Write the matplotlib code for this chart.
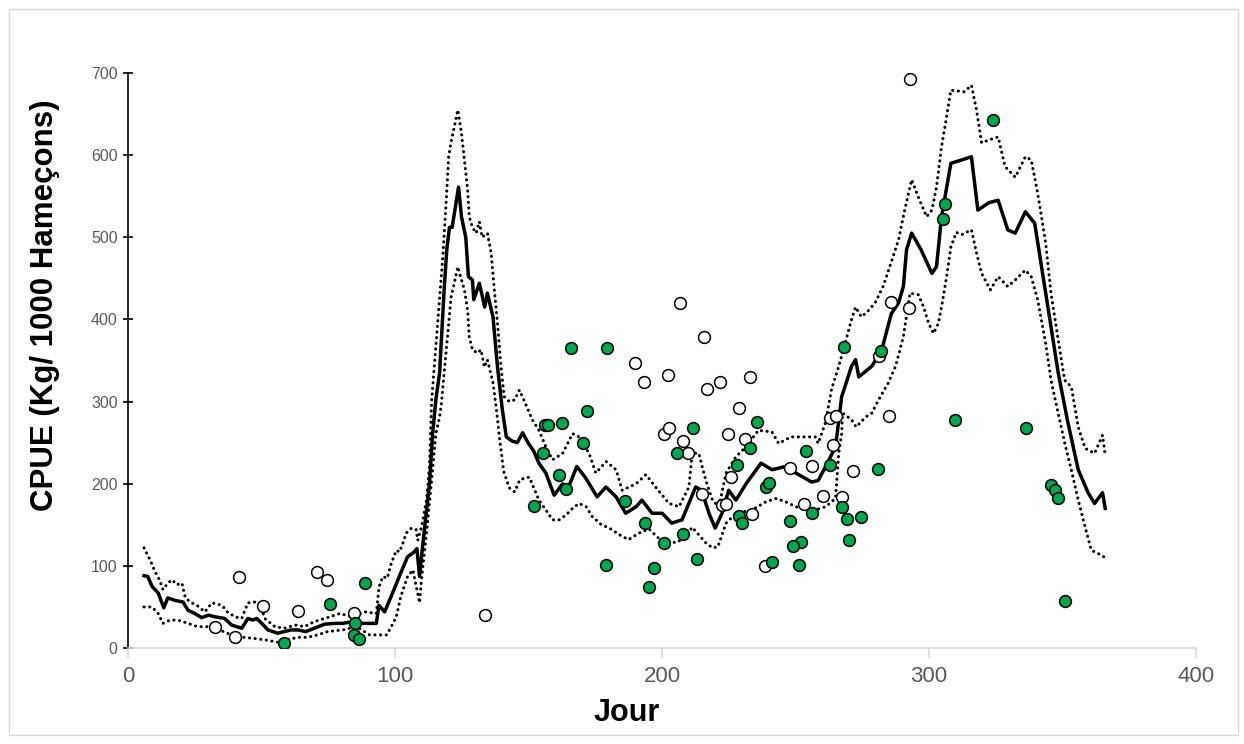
import matplotlib

matplotlib.use("Agg")
import matplotlib.pyplot as plt
from matplotlib.patches import Rectangle

plt.rcParams["font.family"] = ["Liberation Sans", "DejaVu Sans"]

# moving average of CPUE (solid line)
mean_day = [6.0, 7.4, 9.0, 11.3, 13.4, 14.9, 17.6, 20.6, 22.5, 25.0, 27.6, 30.1,
            32.6, 36.2, 38.8, 42.6, 44.9, 46.7, 48.2, 50.1, 52.4, 56.1, 58.5,
            61.1, 63.6, 66.6, 69.7, 73.7, 77.4, 80.4, 83.9, 87.9, 93.0, 94.0,
            96.1, 99.1, 102.1, 104.7, 107.2, 108.2, 109.2, 110.3, 112.9, 114.1,
            115.3, 116.7, 118.4, 119.4, 120.4, 121.4, 123.8, 124.9, 126.5,
            127.5, 129.0, 129.5, 131.6, 133.6, 134.6, 136.7, 138.4, 140.2,
            141.7, 143.8, 145.8, 147.8, 149.8, 151.9, 153.9, 156.5, 159.6,
            162.8, 164.5, 168.1, 171.2, 175.7, 179.0, 182.8, 186.4, 190.3,
            192.5, 196.3, 200.1, 203.6, 207.5, 212.6, 214.8, 217.6, 219.9,
            222.5, 225.0, 227.7, 231.5, 237.1, 241.2, 246.3, 250.1, 256.1,
            258.5, 261.3, 265.0, 267.3, 271.0, 272.5, 273.7, 278.6, 282.3,
            285.9, 288.6, 290.4, 291.6, 293.5, 297.0, 301.1, 302.8, 304.7,
            308.2, 312.2, 315.9, 318.3, 322.4, 325.9, 329.5, 332.3, 336.1,
            339.6, 343.7, 348.4, 351.8, 355.9, 359.6, 362.0, 365.0, 366.0]
mean_cpue = [88, 87, 75, 67, 49, 61, 58, 56, 46, 42, 37, 40, 38, 36, 28, 24, 36,
             34, 36, 30, 22, 18, 20, 22, 22, 20, 24, 29, 30, 30, 32, 30, 30, 52,
             44, 67, 91, 111, 117, 121, 87, 123, 200, 261, 302, 335, 436, 485,
             512, 512, 561, 525, 500, 452, 448, 424, 444, 415, 432, 403, 342,
             290, 257, 252, 250, 262, 250, 240, 225, 213, 186, 200, 192, 221,
             208, 184, 196, 184, 164, 172, 180, 164, 164, 152, 156, 196, 192,
             164, 146, 164, 192, 180, 200, 225, 217, 221, 213, 202, 204, 221,
             245, 306, 343, 351, 330, 343, 363, 407, 420, 440, 485, 505, 485,
             456, 464, 525, 590, 594, 598, 533, 542, 545, 509, 505, 531, 517,
             432, 335, 278, 217, 189, 176, 189, 170]

# upper bound (dotted)
up_day = [6.0, 8.3, 10.1, 11.8, 13.1, 14.9, 16.5, 18.3, 20.2, 21.4, 23.2, 25.8,
          28.8, 31.4, 35.2, 37.2, 40.0, 42.6, 44.9, 47.3, 49.4, 51.2, 55.0, 58.5,
          62.6, 66.1, 69.7, 73.7, 77.4, 79.3, 83.9, 88.9, 93.0, 94.0, 95.4, 97.1,
          98.6, 100.5, 101.7, 103.0, 104.2, 106.2, 107.9, 108.5, 109.9, 111.8,
          112.9, 113.7, 117.9, 119.2, 120.1, 121.0, 122.2, 123.5, 124.9, 126.0,
          127.2, 127.8, 129.0, 130.4, 131.6, 132.6, 134.6, 136.0, 137.2, 138.4,
          139.7, 140.9, 142.8, 144.8, 146.6, 148.8, 151.4, 153.9, 156.5, 159.0,
          162.8, 166.5, 168.9, 172.7, 175.2, 179.1, 182.8, 185.1, 190.3, 194.0,
          197.6, 202.6, 206.4, 210.1, 211.3, 213.8, 216.4, 218.9, 221.3, 224.0,
          227.7, 231.5, 236.1, 241.2, 243.7, 248.3, 253.9, 257.4, 258.5, 261.3,
          263.5, 266.2, 268.6, 271.0, 272.5, 274.7, 277.4, 279.8, 282.8, 285.9,
          288.6, 290.9, 293.5, 296.0, 299.1, 301.1, 302.8, 304.7, 306.2, 308.2,
          313.3, 315.9, 317.8, 319.7, 323.0, 325.9, 328.5, 332.3, 336.1, 338.3,
          340.7, 343.7, 345.7, 348.4, 350.8, 353.3, 355.9, 358.5, 362.0, 365.0,
          366.0]
up_cpue = [122, 107, 93, 83, 71, 79, 83, 77, 79, 62, 56, 52, 44, 55, 52, 44, 38,
           36, 55, 56, 55, 36, 26, 24, 28, 26, 32, 36, 40, 42, 38, 44, 42, 74, 87,
           85, 103, 119, 117, 128, 140, 146, 144, 131, 147, 180, 221, 300, 476,
           545, 598, 616, 634, 655, 627, 594, 558, 525, 512, 505, 519, 500, 505,
           481, 436, 395, 342, 306, 300, 302, 314, 298, 278, 265, 245, 229, 237,
           261, 257, 237, 213, 227, 217, 192, 200, 211, 196, 176, 172, 196, 237,
           237, 204, 180, 172, 213, 233, 245, 265, 263, 249, 257, 257, 257, 249,
           275, 315, 343, 371, 400, 415, 403, 411, 420, 440, 470, 497, 533, 570,
           549, 525, 533, 561, 610, 639, 679, 677, 685, 655, 615, 619, 622, 586,
           573, 598, 594, 554, 493, 432, 375, 326, 318, 269, 243, 237, 259, 235]

# lower bound (dotted)
lo_day = [6.0, 9.0, 11.3, 13.1, 15.7, 18.7, 22.5, 26.0, 29.9, 32.5, 36.2, 40.0,
          43.8, 46.3, 51.2, 56.1, 59.5, 63.6, 67.3, 71.1, 74.7, 80.4, 85.6, 90.5,
          96.9, 98.6, 100.5, 102.1, 104.7, 106.7, 108.2, 109.2, 109.9, 111.8,
          113.6, 115.3, 116.7, 117.4, 118.4, 119.9, 121.0, 122.2, 123.5, 124.9,
          126.0, 127.2, 127.8, 129.0, 130.9, 132.2, 133.5, 134.6, 136.7, 138.0,
          139.1, 140.7, 142.8, 144.8, 146.8, 150.3, 153.9, 156.5, 159.0, 161.5,
          164.1, 166.5, 168.9, 171.6, 173.9, 177.3, 180.3, 184.0, 187.4, 191.5,
          195.1, 198.6, 205.3, 208.7, 211.3, 216.4, 218.9, 220.9, 224.0, 227.7,
          233.7, 238.9, 242.6, 246.3, 250.1, 256.1, 261.3, 265.0, 266.2, 267.3,
          267.6, 271.0, 272.7, 276.2, 278.6, 281.1, 284.8, 287.5, 290.4, 292.9,
          296.0, 298.0, 299.9, 301.7, 303.5, 304.7, 306.6, 308.2, 310.2, 312.2,
          315.9, 317.8, 319.7, 323.0, 325.9, 329.5, 332.3, 336.1, 338.3, 340.7,
          343.7, 345.7, 348.4, 350.8, 353.3, 355.9, 358.5, 360.8, 363.4, 366.0]
lo_cpue = [50, 50, 42, 30, 34, 34, 30, 26, 26, 22, 20, 13, 13, 12, 10, 7, 10, 13,
           13, 16, 20, 22, 26, 16, 16, 26, 38, 62, 87, 95, 71, 55, 83, 140, 200,
           261, 281, 298, 335, 387, 427, 444, 464, 448, 436, 411, 379, 363, 359,
           363, 342, 351, 323, 290, 257, 215, 195, 190, 205, 208, 180, 168, 156,
           156, 162, 170, 176, 172, 160, 150, 146, 138, 132, 140, 145, 134, 128,
           135, 147, 128, 122, 123, 152, 164, 168, 178, 182, 178, 172, 167, 172,
           182, 237, 261, 286, 278, 269, 281, 286, 302, 323, 343, 379, 432, 430,
           415, 395, 383, 395, 415, 452, 488, 506, 503, 509, 481, 456, 436, 452,
           440, 448, 460, 452, 424, 371, 326, 286, 250, 217, 180, 147, 119, 115,
           110]

# observations, filled green
green_day = [58.3, 75.5, 88.6, 85.2, 84.5, 86.4, 165.9, 179.3, 156.2, 157.4,
             162.7, 171.9, 155.5, 170.6, 161.5, 164.1, 151.9, 186.2, 193.5, 200.6,
             207.7, 211.8, 205.7, 179.0, 197.0, 195.1, 213.1, 235.5, 233.1, 228.0,
             238.9, 240.0, 229.0, 230.0, 253.9, 262.8, 256.1, 247.9, 252.0, 249.0,
             241.2, 251.2, 267.3, 269.2, 274.7, 280.8, 268.0, 282.1, 269.9, 305.9,
             305.4, 324.1, 309.9, 336.2, 345.7, 347.3, 348.4, 351.1]
green_cpue = [6, 54, 79, 31, 16, 11, 365, 365, 272, 272, 274, 288, 237, 250, 211,
              193, 173, 179, 152, 128, 139, 268, 237, 101, 97, 74, 108, 275, 243,
              223, 196, 201, 161, 152, 240, 223, 164, 155, 129, 124, 105, 101, 172,
              157, 159, 218, 367, 361, 132, 540, 522, 643, 277, 268, 198, 192, 182,
              57]

# observations, open circles
open_day = [41.5, 32.5, 40.0, 50.4, 63.6, 70.7, 74.4, 84.5, 133.6, 206.7, 215.8,
            190.0, 193.1, 202.2, 216.8, 221.9, 232.9, 229.0, 200.6, 202.6, 207.7,
            209.7, 224.6, 231.0, 214.8, 222.5, 224.0, 226.0, 233.7, 238.5, 247.9,
            256.1, 253.1, 260.2, 262.8, 265.2, 263.9, 267.3, 271.6, 285.2, 281.3,
            285.9, 292.4, 293.0]
open_cpue = [87, 26, 13, 51, 45, 93, 83, 43, 40, 420, 379, 347, 324, 332, 315,
             324, 330, 292, 260, 268, 252, 237, 260, 254, 188, 174, 175, 208, 163,
             100, 219, 221, 175, 185, 280, 282, 247, 184, 216, 283, 355, 421, 414,
             693]

fig = plt.figure(figsize=(12.44, 7.44), dpi=100)
ax = fig.add_axes([0.1029, 0.129, 0.8585, 0.773])

dots = dict(color="black", lw=2.2, ls=(0, (0.05, 1.8)), dash_capstyle="round",
            zorder=2)
ax.plot(up_day, up_cpue, **dots)
ax.plot(lo_day, lo_cpue, **dots)
ax.plot(mean_day, mean_cpue, color="black", lw=2.5, zorder=3)
ax.scatter(open_day, open_cpue, s=72, facecolor="white", edgecolor="black",
           linewidth=1.1, zorder=4)
ax.scatter(green_day, green_cpue, s=72, facecolor="#00A650", edgecolor="black",
           linewidth=1.1, zorder=5)

ax.set_xlim(0, 400)
ax.set_ylim(0, 700)
ax.set_xticks([0, 100, 200, 300, 400])
ax.set_yticks(range(0, 701, 100))

for s in ("top", "right"):
    ax.spines[s].set_visible(False)
ax.spines["left"].set_color("black")
ax.spines["left"].set_linewidth(1.2)
ax.spines["bottom"].set_color("#d9d9d9")
ax.spines["bottom"].set_linewidth(1.2)

ax.tick_params(axis="y", direction="inout", length=7, width=1.2, color="black",
               labelsize=11.5, labelcolor="#595959", pad=4)
ax.tick_params(axis="x", direction="out", length=7, width=1.2, color="#d9d9d9",
               labelsize=16, labelcolor="#595959", pad=6)

fig.text(627 / 1244, 1 - 713 / 744, "Jour", ha="center", va="center",
         fontsize=22, fontweight="bold")
fig.text(45 / 1244, 1 - 305 / 744, "CPUE (Kg/ 1000 Hameçons)", ha="center",
         va="center", rotation=90, fontsize=22.5, fontweight="bold")

fig.patches.append(Rectangle((9 / 1244, 9 / 744), 1229 / 1244, 726 / 744,
                             transform=fig.transFigure, fill=False,
                             edgecolor="#d9d9d9", lw=1.0))

fig.savefig("out.png", dpi=100)
